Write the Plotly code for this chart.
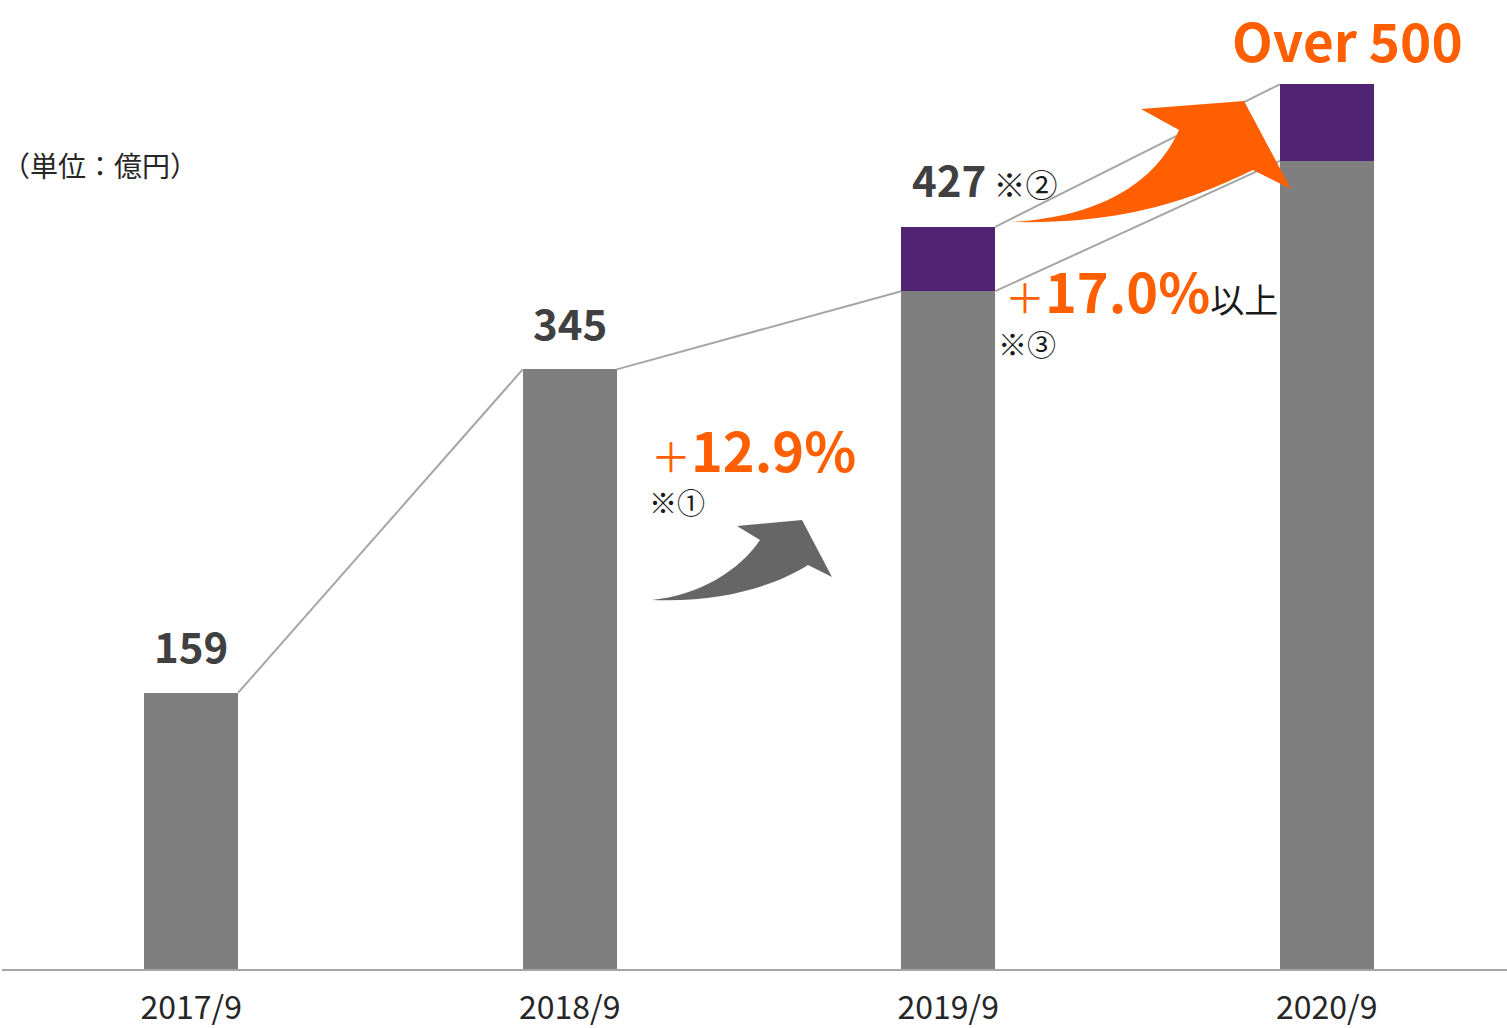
import plotly.graph_objects as go

# ---------------- data ----------------
categories = ["2017/9", "2018/9", "2019/9", "2020/9"]
base_values = [159, 345, 390, 465]      # gray portion
extra_values = [0, 0, 37, 44]           # purple portion
value_labels = ["159", "345", "427", "Over 500"]
growth_labels = ["12.9%", "17.0%"]
note_labels = ["※①", "※②", "※③"]
unit_label = "（単位：億円）"

totals = [b + e for b, e in zip(base_values, extra_values)]

# ---------------- styles ----------------
FONT = "Noto Sans CJK JP"
GRAY_BAR = "#7F7F7F"
PURPLE = "#512373"
ORANGE = "#FF5F00"
LINE = "#A6A6A6"
LABEL = "#404040"
CAT_PX = 378.5
BAR_W = 94 / CAT_PX

W, H = 1507, 1028
ML, MR, MT, MB = 2, 0, 0, 59
PL, PR, PT, PB = ML, W - MR, MT, H - MB
Y_MAX = (PB - PT) / 1.738
X_MAX = -0.5 + (PR - PL) / CAT_PX


def px(x):
    return (x - PL) / (PR - PL)


def py(y):
    return (PB - y) / (PB - PT)


def path_from_pixels(cmds):
    out = []
    for c in cmds:
        if isinstance(c, str):
            out.append(c)
        else:
            out.append(f"{px(c[0]):.5f},{py(c[1]):.5f}")
    return " ".join(out)


xs = list(range(len(categories)))
fig = go.Figure()

fig.add_trace(go.Bar(x=xs, y=base_values, width=BAR_W, marker_color=GRAY_BAR,
                     marker_line_width=0, hoverinfo="skip", showlegend=False))
fig.add_trace(go.Bar(x=xs, y=extra_values, width=BAR_W, marker_color=PURPLE,
                     marker_line_width=0, hoverinfo="skip", showlegend=False))

# connecting lines
for i in range(len(xs) - 1):
    fig.add_trace(go.Scatter(x=[xs[i] + BAR_W / 2, xs[i + 1] - BAR_W / 2],
                             y=[base_values[i], base_values[i + 1]],
                             mode="lines", line=dict(color=LINE, width=2),
                             hoverinfo="skip", showlegend=False))
    if extra_values[i] > 0 and extra_values[i + 1] > 0:
        fig.add_trace(go.Scatter(x=[xs[i] + BAR_W / 2, xs[i + 1] - BAR_W / 2],
                                 y=[totals[i], totals[i + 1]],
                                 mode="lines", line=dict(color=LINE, width=2),
                                 hoverinfo="skip", showlegend=False))

annotations = []
# value labels
for i in range(2):
    annotations.append(dict(x=xs[i], y=totals[i], xref="x", yref="y",
                            text=f"<b>{value_labels[i]}</b>", showarrow=False,
                            yanchor="middle", yshift=48,
                            font=dict(family=FONT, size=42, color=LABEL)))
annotations.append(dict(x=xs[2], y=totals[2], xref="x", yref="y",
                        xanchor="left", xshift=-38, yanchor="middle", yshift=48,
                        text=f"<b>{value_labels[2]}</b><span style='font-size:32px;color:#1a1a1a'> {note_labels[1]}</span>",
                        showarrow=False, font=dict(family=FONT, size=42, color=LABEL)))
annotations.append(dict(x=xs[3], y=1, xref="x", yref="paper",
                        xanchor="center", xshift=21, yanchor="top",
                        borderpad=0,
                        text=f"<b>{value_labels[3]}</b>", showarrow=False,
                        font=dict(family=FONT, size=53, color=ORANGE)))

# growth labels
annotations.append(dict(x=px(753), y=py(448), xref="paper", yref="paper",
                        text=f"<span style='font-size:40px'>＋</span><b>{growth_labels[0]}</b>",
                        showarrow=False, xanchor="center", yanchor="middle",
                        font=dict(family=FONT, size=54, color=ORANGE)))
annotations.append(dict(x=px(647), y=py(502), xref="paper", yref="paper",
                        text=note_labels[0], showarrow=False,
                        xanchor="left", yanchor="middle",
                        font=dict(family=FONT, size=28, color="#1a1a1a")))
annotations.append(dict(x=px(1141), y=py(289), xref="paper", yref="paper",
                        text=f"<span style='font-size:40px'>＋</span><b>{growth_labels[1]}</b>"
                             f"<span style='font-size:34px;color:#1a1a1a'>以上</span>",
                        showarrow=False, xanchor="center", yanchor="middle",
                        font=dict(family=FONT, size=54, color=ORANGE)))
annotations.append(dict(x=px(996), y=py(343), xref="paper", yref="paper",
                        text=note_labels[2], showarrow=False,
                        xanchor="left", yanchor="middle",
                        font=dict(family=FONT, size=29, color="#1a1a1a")))
annotations.append(dict(x=px(0), y=py(165), xref="paper", yref="paper",
                        text=unit_label, showarrow=False,
                        xanchor="left", yanchor="middle",
                        font=dict(family=FONT, size=28, color="#262626")))

# arrows (decorative shapes)
gray_arrow = path_from_pixels([
    "M", (652, 600), "C", (700, 595), (740, 570), (760, 540),
    "L", (737, 526), "L", (802, 520), "L", (832, 577), "L", (808, 565),
    "C", (775, 586), (720, 603), (652, 600), "Z"])
orange_arrow = path_from_pixels([
    "M", (1012, 222), "C", (1080, 218), (1150, 195), (1179, 130),
    "L", (1141, 109), "L", (1244, 101), "L", (1291, 189), "L", (1253, 170),
    "C", (1210, 190), (1140, 225), (1012, 222), "Z"])

shapes = [
    dict(type="path", path=gray_arrow, xref="paper", yref="paper",
         fillcolor="#666666", line=dict(width=0)),
    dict(type="path", path=orange_arrow, xref="paper", yref="paper",
         fillcolor=ORANGE, line=dict(width=0)),
]

fig.update_layout(
    width=W, height=H, autosize=False,
    margin=dict(l=ML, r=MR, t=MT, b=MB, pad=0),
    paper_bgcolor="white", plot_bgcolor="white",
    barmode="stack", bargap=0,
    showlegend=False,
    annotations=annotations, shapes=shapes,
    xaxis=dict(range=[-0.5, X_MAX], tickvals=xs, ticktext=categories,
               showline=True, linecolor=LINE, linewidth=2, showgrid=False,
               zeroline=False, ticks="", fixedrange=True, ticklabelstandoff=10,
               automargin=False,
               tickfont=dict(family=FONT, size=32, color="#262626")),
    yaxis=dict(range=[0, Y_MAX], visible=False, showgrid=False, zeroline=False,
               fixedrange=True, automargin=False),
)

fig.write_html("out.html", config={"displayModeBar": False},
               post_script="document.body.style.margin='0';document.body.style.overflow='hidden';")
